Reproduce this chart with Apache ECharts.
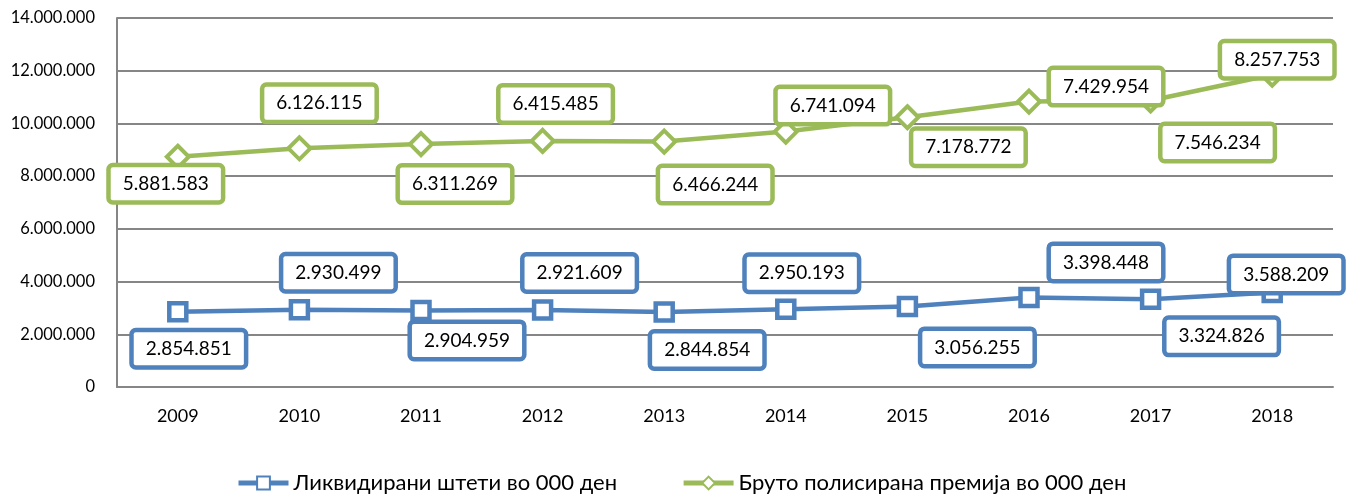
<!DOCTYPE html>
<html>
<head>
<meta charset="utf-8">
<script src="https://cdn.jsdelivr.net/npm/echarts@6/dist/echarts.min.js"></script>
<style>
  html, body { margin: 0; padding: 0; background: #fff; }
  #chart { width: 1347px; height: 496px; }
</style>
</head>
<body>
<div id="chart"></div>
<script>
// data
const years = ['2009', '2010', '2011', '2012', '2013', '2014', '2015', '2016', '2017', '2018'];
const claims = [2854851, 2930499, 2904959, 2921609, 2844854, 2950193, 3056255, 3398448, 3324826, 3588209];
const premium = [5881583, 6126115, 6311269, 6415485, 6466244, 6741094, 7178772, 7429954, 7546234, 8257753];
const claimsName = 'Ликвидирани штети во 000 ден';
const premiumName = 'Бруто полисирана премија во 000 ден';

// label placement (pixel offsets from each point, as in the original)
const claimsOffsets = [[11, 37], [39, -37], [46, 30], [37, -37], [43, 38], [16, -36], [70, 41], [77, -35], [71, 37], [14, -18]];
const premiumOffsets = [[-12, 27], [20, -45], [34, 40], [13, -37], [51, 43], [47, -26], [61, 30], [77, -15], [67, 42], [5, -15]];

const BLUE = '#4F81BD';
const GREEN = '#9BBB59';

function fmt(v) {
  return String(Math.round(v)).replace(/\B(?=(\d{3})+(?!\d))/g, '.');
}

function labelFor(offset, color) {
  return {
    show: true,
    position: 'inside',
    offset: offset,
    formatter: function (p) { return fmt(p.value); },
    fontFamily: 'Lato',
    fontSize: 19,
    color: '#000',
    backgroundColor: '#fff',
    borderColor: color,
    borderWidth: 4.5,
    borderRadius: 2,
    padding: [8, 12, 6, 12]
  };
}

const chart = echarts.init(document.getElementById('chart'));

const option = {
  animation: false,
  grid: { left: 117, right: 14, top: 18, bottom: 109 },
  legend: {
    top: 472,
    left: 236,
    padding: 0,
    itemWidth: 50,
    itemHeight: 16,
    itemGap: 64,
    lineStyle: { width: 5 },
    textStyle: { fontFamily: 'Lato', fontSize: 22, color: '#000' },
    data: [claimsName, premiumName]
  },
  xAxis: {
    type: 'category',
    data: years,
    boundaryGap: true,
    axisLine: { lineStyle: { color: '#868686', width: 2 } },
    axisTick: { show: false },
    axisLabel: { fontFamily: 'Lato', fontSize: 18, color: '#000', margin: 20 }
  },
  yAxis: {
    type: 'value',
    min: 0,
    max: 14000000,
    interval: 2000000,
    axisLine: { show: true, lineStyle: { color: '#868686', width: 2 } },
    axisTick: { show: false },
    splitLine: { lineStyle: { color: '#868686', width: 2 } },
    axisLabel: { fontFamily: 'Lato', fontSize: 16.5, color: '#000', margin: 22, formatter: fmt }
  },
  series: [
    {
      name: claimsName,
      type: 'line',
      stack: 'total',
      data: claims.map(function (v, i) { return { value: v, label: labelFor(claimsOffsets[i], BLUE) }; }),
      symbol: 'rect',
      symbolSize: 17,
      showAllSymbol: true,
      lineStyle: { color: BLUE, width: 4.5 },
      itemStyle: { color: '#fff', borderColor: BLUE, borderWidth: 4.5 },
      z: 3
    },
    {
      name: premiumName,
      type: 'line',
      stack: 'total',
      data: premium.map(function (v, i) { return { value: v, label: labelFor(premiumOffsets[i], GREEN) }; }),
      symbol: 'diamond',
      symbolSize: 22,
      showAllSymbol: true,
      lineStyle: { color: GREEN, width: 4.5 },
      itemStyle: { color: '#fff', borderColor: GREEN, borderWidth: 4 },
      z: 3
    }
  ]
};

chart.setOption(option);
</script>
</body>
</html>
